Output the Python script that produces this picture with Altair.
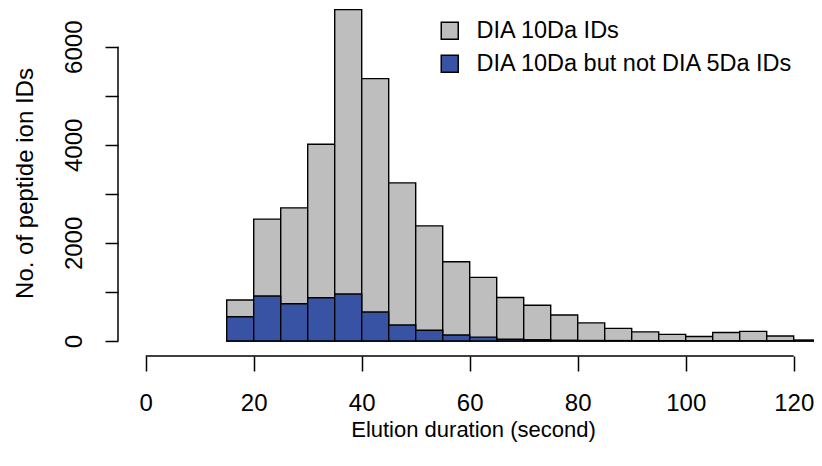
import altair as alt
import pandas as pd

# ---- data ----
bin_start = [15, 20, 25, 30, 35, 40, 45, 50, 55, 60, 65, 70, 75, 80, 85, 90, 95, 100, 105, 110, 115, 120]
bin_width = 5
dia10_ids = [835, 2485, 2715, 4012, 6755, 5350, 3224, 2348, 1615, 1297, 886, 730, 530, 370, 258, 187, 136, 92, 173, 197, 102, 20]
dia10_not5_ids = [495, 917, 760, 882, 957, 590, 326, 218, 122, 80, 35, 25, 15, 10, 8, 5, 5, 3, 3, 3, 2, 2]
series_names = ["DIA 10Da IDs", "DIA 10Da but not DIA 5Da IDs"]
series_colors = ["#bebebe", "#3953a4"]
x_ticks = [0, 20, 40, 60, 80, 100, 120]
y_ticks = [0, 1000, 2000, 3000, 4000, 5000, 6000]

rows = []
for i, (s, vals) in enumerate(zip(series_names, [dia10_ids, dia10_not5_ids])):
    for b, v in zip(bin_start, vals):
        rows.append({"series": s, "draw": i, "start": b, "end": b + bin_width, "count": v})
df = pd.DataFrame(rows)

FONT = "Liberation Sans"
xscale = alt.Scale(domain=[-4.76, 123.76], nice=False, zero=False)
yscale = alt.Scale(domain=[-265, 6789], nice=False, zero=False)

bars = alt.Chart(df).mark_bar(stroke="black", strokeWidth=1.4, clip=True).encode(
    x=alt.X("start:Q", scale=xscale,
            axis=alt.Axis(values=x_ticks, domain=False, grid=False, offset=2,
                          tickSize=15, tickWidth=1.5, tickColor="black",
                          labelFontSize=24, labelPadding=20, labelColor="black",
                          labelFont=FONT,
                          title="Elution duration (second)", titleFont=FONT,
                          titleFontSize=22, titleFontWeight="normal", titleColor="black",
                          titleX=353, titleY=80, titleAlign="center",
                          titleBaseline="alphabetic", titleAnchor="middle")),
    x2="end:Q",
    y=alt.Y("count:Q", scale=yscale,
            axis=alt.Axis(values=y_ticks, domain=False, grid=False, offset=2,
                          tickSize=13, tickWidth=1.5, tickColor="black",
                          labelExpr="datum.value % 2000 == 0 ? datum.label : ''",
                          labelAngle=270, labelAlign="center", labelBaseline="alphabetic",
                          labelFontSize=24, labelPadding=24, labelColor="black",
                          labelFont=FONT, format="d",
                          title="No. of peptide ion IDs", titleFont=FONT,
                          titleFontSize=24, titleFontWeight="normal", titleColor="black",
                          titleAngle=270, titleX=-86, titleY=175, titleAlign="center",
                          titleBaseline="alphabetic", titleAnchor="middle")),
    y2=alt.datum(0),
    color=alt.Color("series:N",
                    scale=alt.Scale(domain=series_names, range=series_colors),
                    sort=series_names,
                    legend=alt.Legend(title=None, orient="none", legendX=318, legendY=11,
                                      symbolType="square", symbolSize=289,
                                      symbolStrokeColor="black", symbolStrokeWidth=1.5,
                                      symbolOpacity=1, labelLimit=0,
                                      labelFont=FONT, labelFontSize=23.5, labelColor="black",
                                      labelOffset=15, rowPadding=8, padding=0)),
    order=alt.Order("draw:Q", sort="ascending"),
)

xline = alt.Chart(pd.DataFrame({"k": [0]})).mark_rule(color="black", strokeWidth=1.5).encode(
    x=alt.datum(x_ticks[0]),
    x2=alt.datum(x_ticks[-1]),
    y=alt.value(348),
)
yline = alt.Chart(pd.DataFrame({"k": [0]})).mark_rule(color="black", strokeWidth=1.5).encode(
    y=alt.datum(y_ticks[0]),
    y2=alt.datum(y_ticks[-1]),
    x=alt.value(-2),
)

chart = alt.layer(bars, xline, yline).properties(
    width=694, height=346,
    autosize=alt.AutoSizeParams(type="none"),
    padding={"left": 112, "top": 0, "right": 0, "bottom": 92},
    background="white",
).configure(font=FONT).configure_view(strokeWidth=0, stroke=None)

chart.save("out.html", embed_options={"renderer": "svg", "actions": False})
